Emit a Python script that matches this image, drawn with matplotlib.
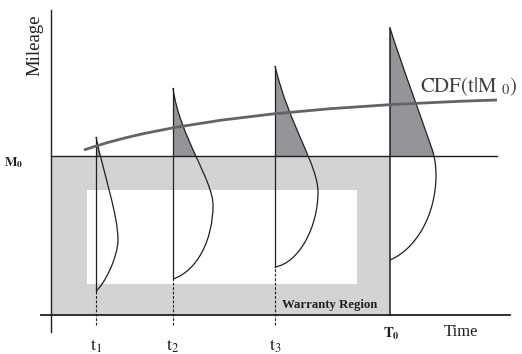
import matplotlib
matplotlib.use('Agg')
import matplotlib.pyplot as plt
from matplotlib.path import Path
from matplotlib.patches import PathPatch, Rectangle

plt.rcParams['font.family'] = ['Liberation Serif', 'DejaVu Serif']
plt.rcParams['mathtext.fontset'] = 'stix'

# schematic units: time and mileage from the origin of the axes
m0 = 159
t0 = 339
times = [45, 122, 224, 339]
time_labels = [r'$\mathrm{t_1}$', r'$\mathrm{t_2}$', r'$\mathrm{t_3}$']
inner_time = [36, 306]
inner_mileage = [31, 125]

# mileage densities at each time, bezier control points (offset, mileage)
dens_t1 = [(0, 178), (8, 140), (22, 100), (22, 75), (22, 58), (8, 30), (0, 24)]
dens_t2 = [(0, 227), (6, 180), (40, 135), (40, 110), (40, 75), (24, 44), (0, 36)]
dens_t3 = [(0, 249), (14, 190), (43, 150), (43, 123), (43, 88), (24, 52), (0, 48)]
dens_T0 = [(0, 287), (10, 255), (32, 195), (42, 166), (44, 160), (46, 152),
           (46, 140), (46, 100), (26, 66), (0, 55)]
densities = [dens_t1, dens_t2, dens_t3, dens_T0]

# CDF(t|M0) curve, quadratic bezier (time, mileage)
cdf_pts = [(33, 165), (150, 206), (446, 215)]

GRAY = '#d1d3d4'
DARK = '#939598'
LINE = '#231f20'

fig = plt.figure(figsize=(5.22, 3.54), dpi=100)
ax = fig.add_axes([0, 0, 1, 1])
ax.set_xlim(-51, 471)
ax.set_ylim(-39, 315)
ax.axis('off')

# warranty region
ax.add_patch(Rectangle((0, 0), t0, m0, facecolor=GRAY, edgecolor='none', zorder=1))
ax.add_patch(Rectangle((inner_time[0], inner_mileage[0]), inner_time[1] - inner_time[0],
                       inner_mileage[1] - inner_mileage[0], facecolor='white',
                       edgecolor='none', zorder=1))

for t, pts in zip(times, densities):
    verts = [(t + dx, m) for dx, m in pts]
    codes = [Path.MOVETO] + [Path.CURVE4] * (len(verts) - 1)
    top = verts[0][1]
    bottom = verts[-1][1]
    # shaded part above M0
    shade = PathPatch(Path(verts + [(t, top), (t, top)],
                           codes + [Path.LINETO, Path.CLOSEPOLY]),
                      facecolor=DARK, edgecolor='none', zorder=2)
    ax.add_patch(shade)
    clip = Rectangle((t - 5, m0), 80, 200, transform=ax.transData)
    shade.set_clip_path(clip)
    ax.add_patch(PathPatch(Path(verts, codes), fill=False, edgecolor=LINE,
                           lw=0.9, zorder=4))
    if t == t0:
        ax.plot([t, t], [0, top], color=LINE, lw=1.1, zorder=4)
    else:
        ax.plot([t, t], [bottom, top], color=LINE, lw=0.9, zorder=4)
        ax.plot([t, t], [-10, bottom], color=LINE, lw=0.8,
                linestyle=(0, (2.5, 1.5)), zorder=4)

# M0 line and axes
ax.plot([0, 446], [m0, m0], color=LINE, lw=1.0, zorder=3)
ax.plot([-10, 459], [0, 0], color=LINE, lw=1.3, zorder=5)
ax.plot([0, 0], [-17, 305], color=LINE, lw=1.0, zorder=5)

# CDF curve
cdf = PathPatch(Path(cdf_pts, [Path.MOVETO, Path.CURVE3, Path.CURVE3]),
                fill=False, edgecolor='#636466', lw=2.0, zorder=6)
ax.add_patch(cdf)

# text
ax.text(-16, 270, 'Mileage', rotation=90, ha='center', va='center',
        fontsize=13.5, color=LINE)
ax.text(-28, 149, r'$\mathbf{M_0}$', ha='right', va='baseline', fontsize=9.5,
        color=LINE)
ax.text(369, 223, r'$\mathrm{CDF(t|M}\ {}_{0}\mathrm{)}$', ha='left',
        va='baseline', fontsize=15, color='#414042')
ax.text(231, 7, 'Warranty Region', ha='left', va='baseline', fontsize=9.2,
        fontweight='bold', color=LINE)
ax.text(332, -23, r'$\mathbf{T_0}$', ha='left', va='baseline', fontsize=10.5,
        color=LINE)
ax.text(393, -21, 'Time', ha='left', va='baseline', fontsize=12, color=LINE)
for t, lab in zip(times[:3], time_labels):
    ax.text(t, -36, lab, ha='center', va='baseline', fontsize=13, color=LINE)

fig.savefig('out.png', dpi=100)
